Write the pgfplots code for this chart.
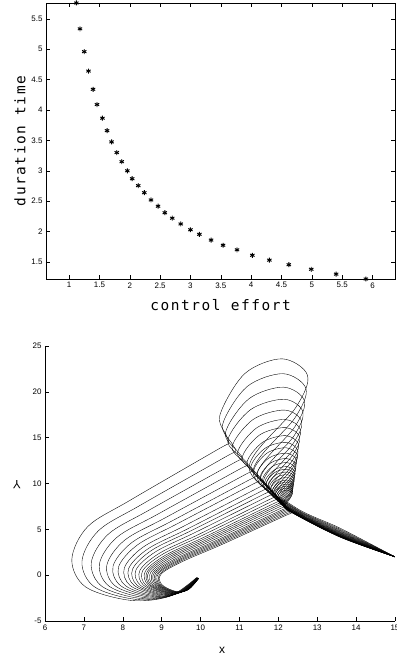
\documentclass[border=0pt]{standalone}
\usepackage{fontspec}
\setmainfont{Liberation Sans}
\newfontfamily\labelfont[LetterSpace=10.8]{DejaVu Sans Mono}
\usepackage{pgfplots}
\pgfplotsset{compat=1.18}

\pgfplotsset{
  every axis/.append style={
    scale only axis,
    /pgf/number format/assume math mode=true,
    tick label style={font=\fontsize{8}{9}\selectfont},
    tick align=inside,
    major tick length=4bp,
    axis line style={black, line width=0.5pt},
    every tick/.style={black, line width=0.5pt},
  },
}

\begin{document}
\begin{tikzpicture}
\useasboundingbox (0,0) rectangle (397bp,658bp);

% ---------- upper panel: duration time versus control effort ----------
\begin{axis}[
  at={(46bp,379bp)}, anchor=south west,
  width=349bp, height=276bp,
  xmin=0.62, xmax=6.37, ymin=1.22, ymax=5.76,
  xtick={1,1.5,...,6}, ytick={1.5,2,...,5.5},
  clip=false,
  xlabel={\labelfont\fontsize{14.5}{16}\selectfont control effort},
  ylabel={\labelfont\fontsize{14.5}{16}\selectfont duration time},
  xlabel style={at={(axis description cs:0.5,-0.096)}, anchor=center},
  ylabel style={at={(axis description cs:-0.0745,0.5)}, anchor=center},
]
\addplot[only marks, mark=asterisk, mark size=2.5pt, black, line width=0.95pt] coordinates {
  (1.12,5.76) (1.18,5.335) (1.25,4.96) (1.32,4.64) (1.395,4.34) (1.46,4.09)
  (1.55,3.865) (1.626,3.66) (1.70,3.475) (1.786,3.30) (1.868,3.15) (1.96,3.00)
  (2.04,2.87) (2.14,2.756) (2.24,2.64) (2.35,2.52) (2.466,2.417) (2.577,2.31)
  (2.70,2.22) (2.84,2.125) (3.00,2.03) (3.147,1.955) (3.34,1.86) (3.537,1.775)
  (3.767,1.70) (4.02,1.61) (4.30,1.53) (4.62,1.455) (4.99,1.38) (5.40,1.30)
  (5.89,1.22)
};
\end{axis}

% ---------- lower panel: trajectories in the (x, Y) plane ----------
\begin{axis}[
  at={(45bp,37bp)}, anchor=south west,
  width=350bp, height=275bp,
  xmin=6, xmax=15, ymin=-5, ymax=25,
  axis x line*=bottom, axis y line*=left,
  xtick={6,...,15}, ytick={-5,0,...,25},
  xlabel={\fontsize{12}{14}\selectfont x},
  ylabel={\fontsize{12}{14}\selectfont Y},
  xlabel style={at={(axis description cs:0.506,-0.105)}, anchor=center},
  ylabel style={at={(axis description cs:-0.08,0.495)}, anchor=center, rotate=90},
  cycle list={{black, solid}},
  every axis plot/.append style={line width=0.38pt, smooth, tension=0.55, no markers},
]
\addplot coordinates {(15,2) (13.6,5.10) (12.40,7.50) (11.25,11.80) (12.45,18.30) (12.75,21.80) (12.10,23.60) (11.14,22.00) (10.50,17.50) (10.67,15.18) (10.72,14.40) (10.42,13.66) (8.20,8.20) (7.10,5.30) (6.69,1.70) (7.05,-1.30) (8.20,-2.75) (9.20,-2.30) (9.90,-0.25)};
\addplot coordinates {(15,2) (13.6,4.99) (12.39,7.42) (11.35,11.32) (12.43,17.18) (12.71,20.35) (12.12,21.98) (11.19,20.55) (10.57,16.48) (10.82,14.28) (10.90,13.54) (10.61,12.83) (8.46,7.65) (7.38,4.87) (6.95,1.52) (7.27,-1.27) (8.33,-2.64) (9.26,-2.22) (9.91,-0.26)};
\addplot coordinates {(15,2) (13.6,4.89) (12.39,7.35) (11.45,10.88) (12.42,16.16) (12.67,19.03) (12.13,20.51) (11.24,19.23) (10.64,15.55) (10.96,13.46) (11.07,12.76) (10.79,12.09) (8.70,7.15) (7.63,4.48) (7.19,1.36) (7.47,-1.24) (8.45,-2.54) (9.31,-2.14) (9.91,-0.27)};
\addplot coordinates {(15,2) (13.6,4.80) (12.39,7.29) (11.54,10.48) (12.41,15.24) (12.63,17.84) (12.15,19.19) (11.28,18.04) (10.70,14.71) (11.09,12.72) (11.22,12.06) (10.94,11.42) (8.92,6.70) (7.85,4.13) (7.40,1.22) (7.65,-1.21) (8.56,-2.45) (9.35,-2.08) (9.92,-0.28)};
\addplot coordinates {(15,2) (13.6,4.72) (12.38,7.23) (11.61,10.13) (12.39,14.42) (12.60,16.78) (12.16,18.01) (11.35,16.98) (10.81,13.97) (11.22,12.07) (11.35,11.44) (11.08,10.82) (9.11,6.30) (8.05,3.82) (7.59,1.09) (7.81,-1.19) (8.66,-2.37) (9.39,-2.02) (9.92,-0.29)};
\addplot coordinates {(15,2) (13.6,4.65) (12.38,7.19) (11.68,9.82) (12.38,13.71) (12.57,15.86) (12.17,16.99) (11.44,16.06) (10.95,13.32) (11.34,11.50) (11.47,10.89) (11.21,10.30) (9.28,5.95) (8.23,3.55) (7.75,0.98) (7.95,-1.17) (8.74,-2.30) (9.43,-1.96) (9.92,-0.30)};
\addplot coordinates {(15,2) (13.6,4.59) (12.37,7.14) (11.73,9.56) (12.37,13.10) (12.55,15.07) (12.18,16.10) (11.51,15.27) (11.07,12.76) (11.45,11.01) (11.57,10.42) (11.31,9.85) (9.42,5.65) (8.38,3.31) (7.89,0.88) (8.07,-1.15) (8.81,-2.24) (9.46,-1.92) (9.93,-0.30)};
\addplot coordinates {(15,2) (13.6,4.53) (12.37,7.10) (11.79,9.29) (12.36,12.49) (12.52,14.28) (12.19,15.22) (11.59,14.48) (11.19,12.20) (11.55,10.51) (11.67,9.95) (11.42,9.40) (9.57,5.35) (8.53,3.08) (8.04,0.79) (8.19,-1.13) (8.88,-2.18) (9.49,-1.87) (9.93,-0.31)};
\addplot coordinates {(15,2) (13.6,4.48) (12.37,7.07) (11.84,9.07) (12.36,11.98) (12.50,13.62) (12.19,14.49) (11.65,13.82) (11.29,11.73) (11.64,10.10) (11.75,9.56) (11.50,9.03) (9.69,5.10) (8.65,2.88) (8.15,0.71) (8.29,-1.11) (8.94,-2.13) (9.51,-1.84) (9.93,-0.31)};
\addplot coordinates {(15,2) (13.6,4.44) (12.37,7.04) (11.88,8.90) (12.35,11.57) (12.49,13.09) (12.20,13.90) (11.70,13.29) (11.37,11.36) (11.71,9.78) (11.82,9.25) (11.58,8.73) (9.78,4.90) (8.75,2.73) (8.25,0.64) (8.37,-1.10) (8.99,-2.09) (9.53,-1.81) (9.93,-0.32)};
\addplot coordinates {(15,2) (13.6,4.40) (12.37,7.01) (11.92,8.72) (12.35,11.16) (12.47,12.56) (12.21,13.31) (11.75,12.76) (11.45,10.99) (11.78,9.45) (11.89,8.94) (11.65,8.43) (9.88,4.70) (8.85,2.57) (8.34,0.58) (8.45,-1.09) (9.04,-2.05) (9.55,-1.78) (9.94,-0.32)};
\addplot coordinates {(15,2) (13.6,4.36) (12.36,6.98) (11.95,8.54) (12.34,10.75) (12.45,12.03) (12.21,12.72) (11.80,12.23) (11.53,10.62) (11.85,9.13) (11.95,8.63) (11.71,8.13) (9.98,4.50) (8.95,2.41) (8.44,0.52) (8.53,-1.08) (9.09,-2.01) (9.57,-1.75) (9.94,-0.32)};
\addplot coordinates {(15,2) (13.6,4.33) (12.36,6.96) (11.98,8.41) (12.33,10.45) (12.44,11.64) (12.22,12.28) (11.84,11.84) (11.59,10.34) (11.90,8.88) (12.00,8.39) (11.77,7.91) (10.05,4.35) (9.03,2.30) (8.51,0.47) (8.59,-1.07) (9.12,-1.98) (9.59,-1.72) (9.94,-0.33)};
\addplot coordinates {(15,2) (13.6,4.30) (12.36,6.94) (12.01,8.28) (12.33,10.14) (12.43,11.24) (12.22,11.84) (11.88,11.44) (11.65,10.06) (11.95,8.64) (12.05,8.16) (11.82,7.69) (10.12,4.20) (9.10,2.18) (8.58,0.42) (8.65,-1.06) (9.16,-1.95) (9.60,-1.70) (9.94,-0.33)};
\addplot coordinates {(15,2) (13.6,4.28) (12.36,6.93) (12.03,8.19) (12.33,9.94) (12.42,10.98) (12.22,11.55) (11.90,11.18) (11.69,9.87) (11.99,8.47) (12.09,8.00) (11.86,7.53) (10.17,4.10) (9.15,2.10) (8.63,0.39) (8.69,-1.05) (9.18,-1.93) (9.61,-1.69) (9.94,-0.33)};
\addplot coordinates {(15,2) (13.6,4.26) (12.36,6.91) (12.05,8.10) (12.32,9.73) (12.41,10.71) (12.23,11.25) (11.93,10.91) (11.73,9.69) (12.02,8.31) (12.12,7.85) (11.89,7.39) (10.22,4.00) (9.20,2.02) (8.67,0.36) (8.73,-1.05) (9.21,-1.91) (9.62,-1.67) (9.94,-0.33)};
\addplot coordinates {(15,2) (13.6,4.24) (12.36,6.90) (12.07,8.02) (12.32,9.53) (12.41,10.45) (12.23,10.96) (11.95,10.65) (11.77,9.50) (12.06,8.14) (12.15,7.69) (11.92,7.24) (10.26,3.90) (9.25,1.95) (8.72,0.32) (8.77,-1.04) (9.23,-1.89) (9.63,-1.66) (9.94,-0.34)};
\addplot coordinates {(15,2) (13.6,4.22) (12.36,6.88) (12.09,7.93) (12.32,9.32) (12.40,10.18) (12.23,10.66) (11.98,10.38) (11.81,9.32) (12.10,7.99) (12.19,7.54) (11.96,7.09) (10.31,3.80) (9.30,1.87) (8.77,0.29) (8.81,-1.04) (9.26,-1.87) (9.64,-1.64) (9.94,-0.34)};
\addplot coordinates {(15,2) (13.6,4.20) (12.36,6.87) (12.11,7.84) (12.32,9.12) (12.39,9.92) (12.24,10.37) (12.01,10.12) (11.85,9.13) (12.13,7.82) (12.22,7.38) (12.00,6.94) (10.36,3.70) (9.35,1.79) (8.81,0.26) (8.85,-1.03) (9.28,-1.85) (9.65,-1.63) (9.95,-0.34)};
\addplot coordinates {(15,2) (13.6,4.19) (12.35,6.86) (12.12,7.77) (12.31,8.97) (12.38,9.72) (12.24,10.15) (12.02,9.92) (11.88,8.99) (12.15,7.69) (12.24,7.26) (12.02,6.82) (10.40,3.63) (9.39,1.73) (8.85,0.24) (8.88,-1.03) (9.30,-1.84) (9.66,-1.61) (9.95,-0.34)};
\addplot coordinates {(15,2) (13.6,4.17) (12.35,6.85) (12.13,7.71) (12.31,8.81) (12.38,9.52) (12.24,9.93) (12.04,9.72) (11.91,8.85) (12.18,7.58) (12.27,7.15) (12.05,6.72) (10.43,3.55) (9.43,1.67) (8.89,0.21) (8.91,-1.02) (9.32,-1.82) (9.67,-1.60) (9.95,-0.34)};
\addplot coordinates {(15,2) (13.6,4.16) (12.35,6.84) (12.15,7.64) (12.31,8.66) (12.37,9.33) (12.24,9.71) (12.05,9.53) (11.93,8.71) (12.20,7.45) (12.29,7.03) (12.07,6.60) (10.47,3.48) (9.46,1.61) (8.92,0.19) (8.94,-1.02) (9.33,-1.81) (9.67,-1.59) (9.95,-0.34)};
\addplot coordinates {(15,2) (13.6,4.14) (12.35,6.83) (12.16,7.58) (12.31,8.51) (12.37,9.13) (12.24,9.49) (12.07,9.33) (11.96,8.57) (12.23,7.33) (12.32,6.91) (12.10,6.49) (10.50,3.40) (9.50,1.56) (8.96,0.16) (8.97,-1.01) (9.35,-1.79) (9.68,-1.58) (9.95,-0.35)};
\addplot coordinates {(15,2) (13.6,4.13) (12.35,6.82) (12.18,7.51) (12.30,8.36) (12.36,8.93) (12.25,9.27) (12.09,9.13) (11.99,8.43) (12.25,7.21) (12.34,6.80) (12.12,6.38) (10.54,3.33) (9.54,1.50) (8.99,0.14) (9.00,-1.01) (9.37,-1.78) (9.69,-1.57) (9.95,-0.35)};
\end{axis}
\end{tikzpicture}
\end{document}
